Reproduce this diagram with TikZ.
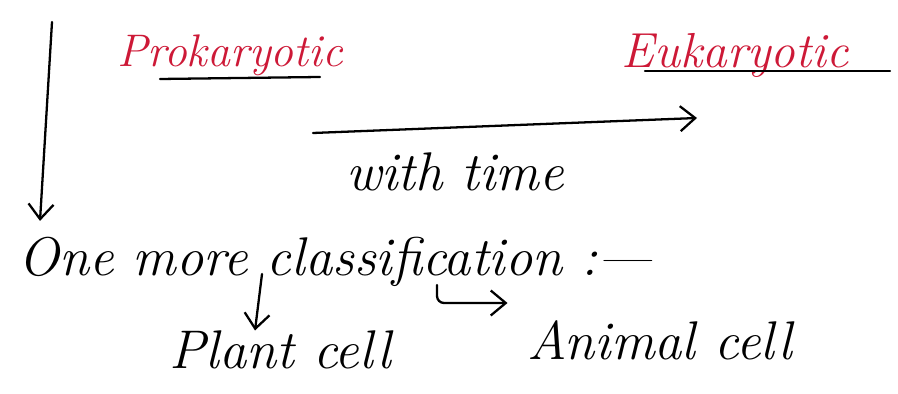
\documentclass[tikz,border=0pt]{standalone}
\usetikzlibrary{arrows.meta}
\definecolor{inkred}{RGB}{205,25,55}
\begin{document}
\begin{tikzpicture}[
x=0.02cm,y=-0.02cm,
every node/.style={
inner sep=0pt,
font=\fontsize{26}{30}\selectfont\itshape
},
title/.style={text=inkred},
big/.style={font=\fontsize{31}{36}\selectfont\itshape},
ink/.style={line width=1.3pt,line cap=round},
barb/.style={ink,-{Straight Barb[length=3mm,width=5mm]}}
]
\useasboundingbox (0,0) rectangle (898,394);

\node[title] (P) at (230,55)
{Prokaryotic};

\node[title,font=\fontsize{28}{32}\selectfont\itshape] (E) at (735,55)
{Eukaryotic};

\node[big] (T) at (455,172)
{with time};

\node[big,anchor=west] (C) at (18,262)
{One more classification :---};

\node[big] (Pl) at (280,350)
{Plant cell};

\node[big] (An) at (660,340)
{Animal cell};

\coordinate (top) at (52,22);
\coordinate (t0) at (313,133);
\coordinate (t1) at (697,118);
\coordinate (pm) at (262,274);
\coordinate (hook) at (437,285);

\draw[ink] (160,79) -- (320,77);
\draw[ink] (645,71) -- (890,71);

\draw[barb] (top) -- ([xshift=0.44cm,yshift=0.32cm]C.north west);
\draw[barb] (t0) -- (t1);
\draw[barb] (pm) -- ([xshift=-0.5cm]Pl.north);
\draw[barb,rounded corners=4pt] (hook) |- ([xshift=-0.4cm,yshift=0.74cm]An.west);

\end{tikzpicture}
\end{document}
